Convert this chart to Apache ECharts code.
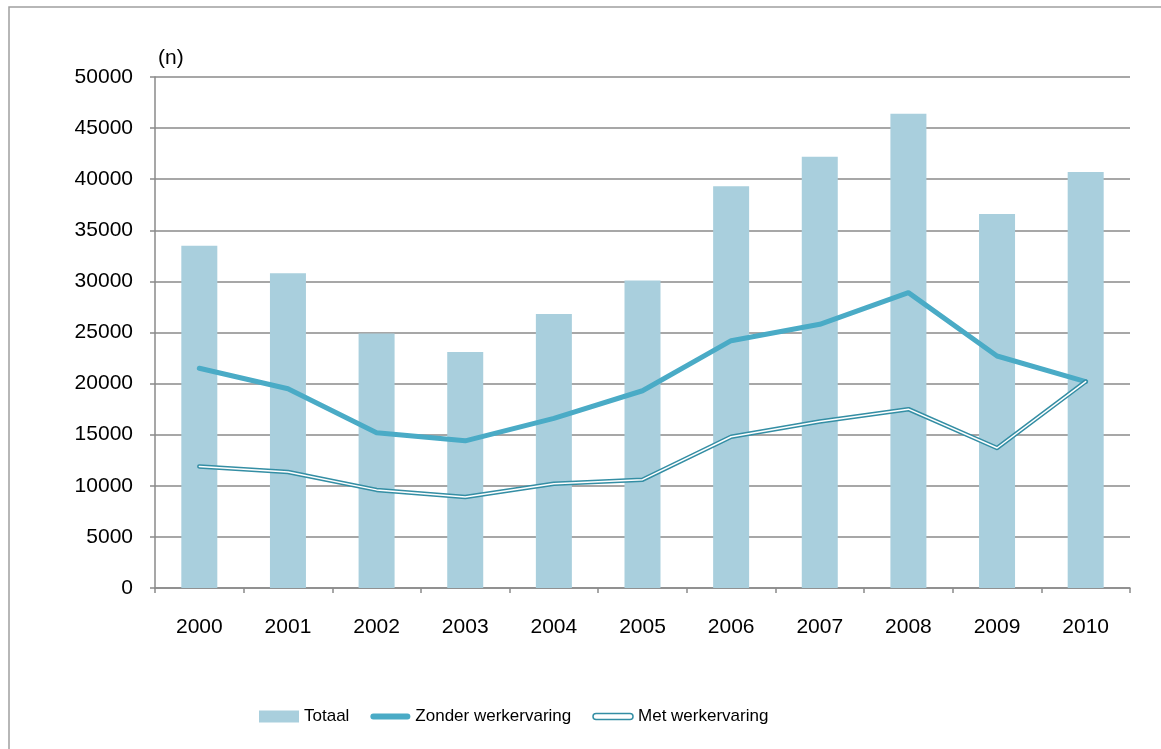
<!DOCTYPE html>
<html>
<head>
<meta charset="utf-8">
<script src="https://cdn.jsdelivr.net/npm/echarts@6/dist/echarts.min.js"></script>
<style>
  html, body { margin: 0; padding: 0; background: #fff; }
  #view { width: 1161px; height: 749px; }
</style>
</head>
<body>
<div id="view"></div>
<script>
var years = ['2000', '2001', '2002', '2003', '2004', '2005', '2006', '2007', '2008', '2009', '2010'];
var totaal = [33500, 30800, 24900, 23100, 26800, 30100, 39300, 42200, 46400, 36600, 40700];
var zonder = [21500, 19500, 15200, 14400, 16600, 19300, 24200, 25800, 28900, 22700, 20200];
var met = [11900, 11350, 9600, 8900, 10200, 10600, 14800, 16300, 17500, 13700, 20200];

var gridGray = '#8a8a8a';
var font = "'Liberation Sans', Arial, sans-serif";
// legend icons: rounded bars 40x6
var pill = 'path://M3,0H37A3,3 0 0 1 37,6H3A3,3 0 0 1 3,0Z';

var chart = echarts.init(document.getElementById('view'));
chart.setOption({
    animation: false,
    grid: {left: 155, right: 31, top: 77, bottom: 161},
    graphic: [
        {type: 'rect', shape: {x: 9, y: 7, width: 1200, height: 800},
         style: {fill: 'none', stroke: '#a0a0a0', lineWidth: 1.5}, silent: true},
        {type: 'text', x: 158, y: 58,
         style: {text: '(n)', font: '21px ' + font, fill: '#000', verticalAlign: 'middle'}}
    ],
    legend: {
        left: 259, top: 708, padding: 0,
        itemWidth: 40, itemHeight: 12, itemGap: 21,
        textStyle: {fontFamily: font, fontSize: 17, color: '#000'},
        data: [
            {name: 'Totaal', icon: 'rect', itemStyle: {color: '#a9cfdd'}},
            {name: 'Zonder werkervaring', icon: pill, itemStyle: {color: '#4aabc6', borderWidth: 0}},
            {name: 'Met werkervaring', icon: pill, itemStyle: {color: '#fff', borderColor: '#348ea4', borderWidth: 1.5}}
        ]
    },
    xAxis: {
        type: 'category', data: years, boundaryGap: true,
        axisLine: {lineStyle: {color: gridGray, width: 1.5}},
        axisTick: {show: true, length: 5, lineStyle: {color: gridGray, width: 1.5}},
        axisLabel: {margin: 29, fontFamily: font, fontSize: 21, color: '#000'}
    },
    yAxis: {
        type: 'value', min: 0, max: 50000, interval: 5000,
        axisLine: {show: true, lineStyle: {color: gridGray, width: 1.5}},
        axisTick: {show: true, length: 5, lineStyle: {color: gridGray, width: 1.5}},
        axisLabel: {margin: 22, fontFamily: font, fontSize: 21, color: '#000',
                    formatter: function(v) { return String(v); }},
        splitLine: {lineStyle: {color: gridGray, width: 1.5}}
    },
    series: [
        {name: 'Totaal', type: 'bar', data: totaal, barWidth: 36,
         itemStyle: {color: '#a9cfdd'}},
        {name: 'Zonder werkervaring', type: 'line', data: zonder, symbol: 'none',
         lineStyle: {color: '#4aabc6', width: 5, cap: 'round', join: 'round'}, itemStyle: {color: '#4aabc6'}},
        {name: 'Met werkervaring', type: 'line', data: met, symbol: 'none',
         lineStyle: {color: '#348ea4', width: 4.5, cap: 'round', join: 'round'}, itemStyle: {color: '#348ea4'}},
        // white core on top of the teal line gives the double stroke
        {name: 'Met werkervaring', type: 'line', data: met, symbol: 'none',
         lineStyle: {color: '#fff', width: 1.5, cap: 'round', join: 'round'}, itemStyle: {color: '#fff'}}
    ]
});
</script>
</body>
</html>
